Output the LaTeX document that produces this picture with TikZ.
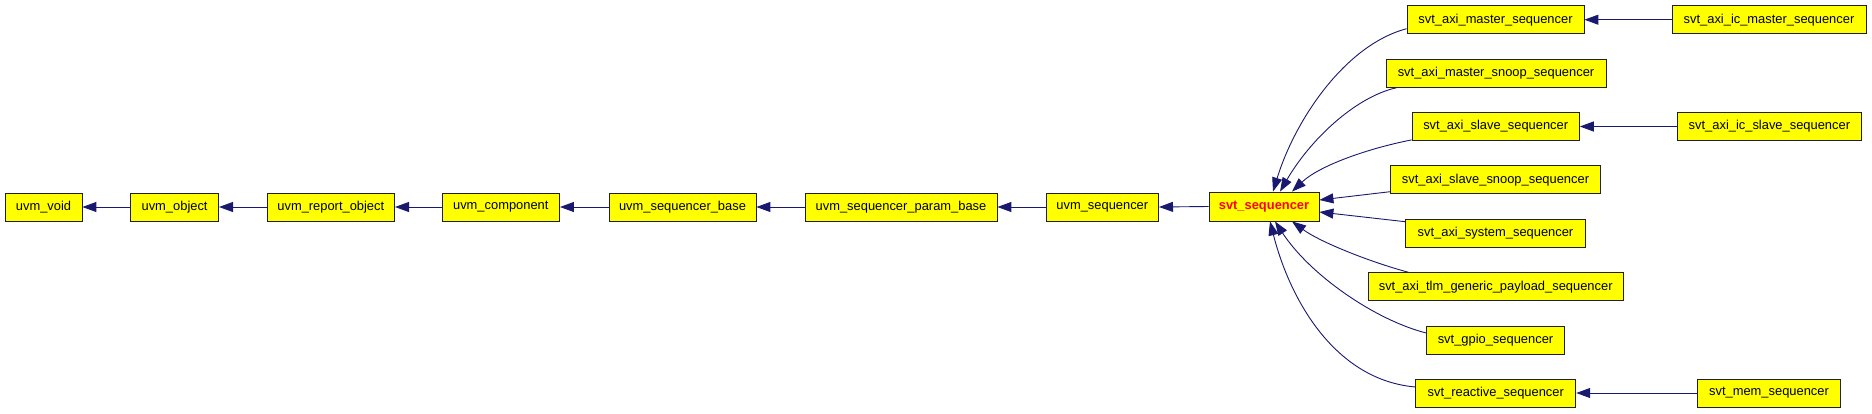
\documentclass[tikz,border=0pt]{standalone}
\usepackage{fontspec}
\setmainfont{Liberation Sans}
\usetikzlibrary{arrows.meta}
\definecolor{edgecol}{HTML}{191970}
\definecolor{boxfill}{HTML}{FFFF00}
\definecolor{boxline}{HTML}{202020}
\begin{document}
\begin{tikzpicture}[x=1pt,y=-1pt,
  cls/.style={rectangle,draw=boxline,line width=0.8pt,fill=boxfill,minimum height=28pt,inner sep=0pt,font=\fontsize{12.9}{15}\selectfont},
  cur/.style={cls,text=red,font=\fontsize{12.9}{15}\selectfont\bfseries},
  edge/.style={draw=edgecol,line width=0.9pt,-{Triangle[length=14pt,width=10pt]}}]
\useasboundingbox (0,0) rectangle (1872,413);
% main row
\node[cls,minimum width=77pt] (void) at (43.5,207) {uvm\_void};
\node[cls,minimum width=88pt] (object) at (174.6,207) {uvm\_object};
\node[cls,minimum width=127.6pt] (report) at (330.8,207) {uvm\_report\_object};
\node[cls,minimum width=117.5pt] (component) at (500.8,207) {uvm\_component};
\node[cls,minimum width=147pt] (seqbase) at (682.5,207) {uvm\_sequencer\_base};
\node[cls,minimum width=192pt] (parambase) at (901,207) {uvm\_sequencer\_param\_base};
\node[cls,minimum width=112.6pt] (uvmseq) at (1102.3,207) {uvm\_sequencer};
\node[cur,minimum width=110pt,minimum height=29pt] (svt) at (1264,206.5) {svt\_sequencer};
% right column
\node[cls,minimum width=177pt] (master) at (1495.5,19.7) {svt\_axi\_master\_sequencer};
\node[cls,minimum width=194pt] (icmaster) at (1769,19.7) {svt\_axi\_ic\_master\_sequencer};
\node[cls,minimum width=220pt] (msnoop) at (1496,73.3) {svt\_axi\_master\_snoop\_sequencer};
\node[cls,minimum width=167.4pt] (slave) at (1495.7,126.5) {svt\_axi\_slave\_sequencer};
\node[cls,minimum width=184.8pt] (icslave) at (1769.4,126.5) {svt\_axi\_ic\_slave\_sequencer};
\node[cls,minimum width=210pt] (ssnoop) at (1495.5,179.7) {svt\_axi\_slave\_snoop\_sequencer};
\node[cls,minimum width=180pt] (system) at (1495.5,233.2) {svt\_axi\_system\_sequencer};
\node[cls,minimum width=255.5pt] (tlm) at (1495.7,286.7) {svt\_axi\_tlm\_generic\_payload\_sequencer};
\node[cls,minimum width=137.7pt] (gpio) at (1495.5,340) {svt\_gpio\_sequencer};
\node[cls,minimum width=160pt] (reactive) at (1495.8,393) {svt\_reactive\_sequencer};
\node[cls,minimum width=143.4pt] (mem) at (1769,393) {svt\_mem\_sequencer};
% straight edges
\draw[edge] (object.west) -- (void.east);
\draw[edge] (report.west) -- (object.east);
\draw[edge] (component.west) -- (report.east);
\draw[edge] (seqbase.west) -- (component.east);
\draw[edge] (parambase.west) -- (seqbase.east);
\draw[edge] (uvmseq.west) -- (parambase.east);
\draw[edge] (svt.west) -- (uvmseq.east);
\draw[edge] (icmaster.west) -- (master.east);
\draw[edge] (icslave.west) -- (slave.east);
\draw[edge] (mem.west) -- (reactive.east);
% fan-in edges to svt_sequencer
\draw[edge] ([yshift=-9pt]master.west) .. controls (1345,45) and (1295,120) .. ([xshift=9pt]svt.north);
\draw[edge] ([xshift=11pt]msnoop.south west) .. controls (1355,97) and (1310,140) .. ([xshift=16pt]svt.north);
\draw[edge] ([yshift=1pt]slave.south west) .. controls (1370,148) and (1320,165) .. ([xshift=28pt]svt.north);
\draw[edge] ([yshift=-12pt]ssnoop.west) -- ([yshift=6.5pt]svt.east);
\draw[edge] ([yshift=11.5pt]system.west) -- ([yshift=-5.5pt]svt.east);
\draw[edge] ([xshift=41pt]tlm.north west) .. controls (1370,262) and (1320,242) .. ([xshift=28pt]svt.south);
\draw[edge] ([yshift=7pt]gpio.west) .. controls (1375,320) and (1310,275) .. ([xshift=11pt]svt.south);
\draw[edge] ([yshift=6pt]reactive.west) .. controls (1335,380) and (1290,300) .. ([xshift=6pt]svt.south);
\end{tikzpicture}
\end{document}
